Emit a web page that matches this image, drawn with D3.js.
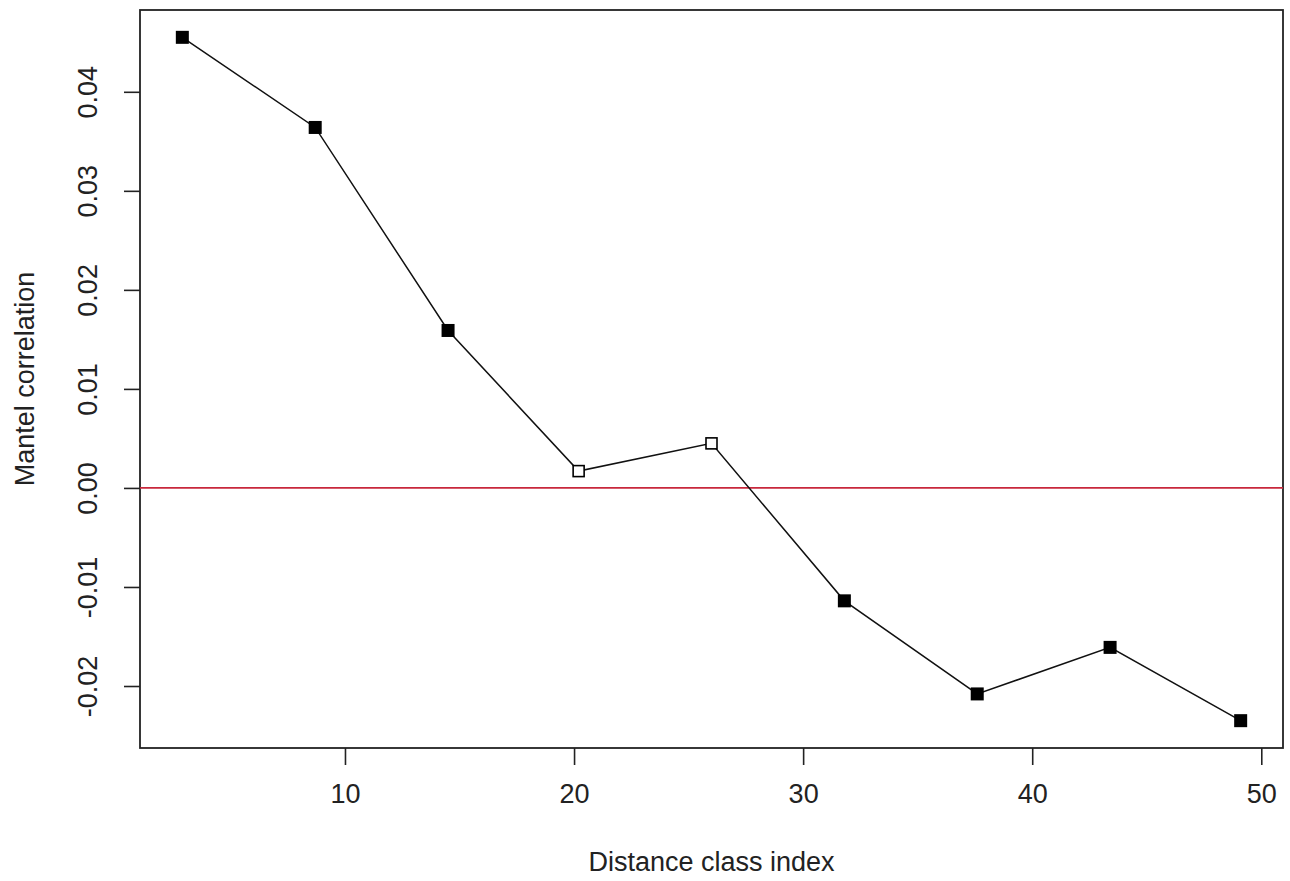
<!DOCTYPE html>
<html>
<head>
<meta charset="utf-8">
<script src="https://cdn.jsdelivr.net/npm/d3@7"></script>
<style>
  html, body { margin: 0; padding: 0; background: #fff; }
  svg { display: block; }
  text { font-family: "Liberation Sans", Arial, sans-serif; fill: #222; }
</style>
</head>
<body>
<svg id="chart" width="1290" height="881"></svg>
<script>
// Mantel correlogram: correlation per distance class
const classIndex = [2.9, 8.7, 14.5, 20.2, 26.0, 31.8, 37.6, 43.4, 49.1];
const mantelR    = [0.0455, 0.0364, 0.0159, 0.0017, 0.0045, -0.0114, -0.0208, -0.0161, -0.0235];
const significant = [true, true, true, false, false, true, true, true, true];
const xTicks = [10, 20, 30, 40, 50];
const yTicks = [-0.02, -0.01, 0.00, 0.01, 0.02, 0.03, 0.04];
const xTitle = "Distance class index";
const yTitle = "Mantel correlation";

const W = 1290, H = 881;
const margin = { left: 140, right: 7, top: 10, bottom: 133 };
const svg = d3.select("#chart");

// R-style 4% padding around the data range
function padded(ext) {
  const d = (ext[1] - ext[0]) * 0.04;
  return [ext[0] - d, ext[1] + d];
}

const x = d3.scaleLinear()
  .domain(padded(d3.extent(classIndex)))
  .range([margin.left, W - margin.right]);
const y = d3.scaleLinear()
  .domain(padded(d3.extent(mantelR)))
  .range([H - margin.bottom, margin.top]);

const fontSize = 27;
// plain hyphen for negatives, two decimals
const yFmt = v => v.toFixed(2).replace("-0.00", "0.00");

// x axis
const xAxis = svg.append("g")
  .attr("transform", `translate(0,${H - margin.bottom})`)
  .call(d3.axisBottom(x).tickValues(xTicks).tickFormat(d => String(d)).tickSize(17).tickPadding(19));
// y axis, labels rotated as in base graphics
const yAxis = svg.append("g")
  .attr("transform", `translate(${margin.left},0)`)
  .call(d3.axisLeft(y).tickValues(yTicks).tickFormat(yFmt).tickSize(16));

[xAxis, yAxis].forEach(g => {
  g.select(".domain").remove();
  g.selectAll(".tick line").attr("stroke", "#222").attr("stroke-width", 1.6);
  g.selectAll(".tick text").style("font-size", fontSize + "px").attr("fill", "#222");
});
xAxis.selectAll(".tick text").attr("dy", "0.71em");
yAxis.selectAll(".tick text")
  .attr("x", null).attr("dy", null)
  .attr("text-anchor", "middle")
  .attr("dominant-baseline", "central")
  .attr("transform", "translate(-52,0) rotate(-90)");

// plot box
svg.append("rect")
  .attr("x", margin.left).attr("y", margin.top)
  .attr("width", W - margin.left - margin.right)
  .attr("height", H - margin.top - margin.bottom)
  .attr("fill", "none").attr("stroke", "#222").attr("stroke-width", 1.8);

// zero reference line
svg.append("line")
  .attr("x1", margin.left).attr("x2", W - margin.right)
  .attr("y1", y(0)).attr("y2", y(0))
  .attr("stroke", "#c8283c").attr("stroke-width", 1.8);

// connecting line
const pts = classIndex.map((c, i) => ({ c, r: mantelR[i], s: significant[i] }));
svg.append("path")
  .datum(pts)
  .attr("fill", "none").attr("stroke", "#111").attr("stroke-width", 1.5)
  .attr("d", d3.line().x(d => x(d.c)).y(d => y(d.r)));

// markers: filled = significant, open = not significant
svg.selectAll("rect.pt")
  .data(pts)
  .join("rect")
  .attr("class", "pt")
  .each(function (d) {
    const s = d.s ? 13 : 11;
    d3.select(this)
      .attr("x", x(d.c) - s / 2).attr("y", y(d.r) - s / 2)
      .attr("width", s).attr("height", s)
      .attr("fill", d.s ? "#000" : "#fff")
      .attr("stroke", "#000")
      .attr("stroke-width", d.s ? 0 : 1.6);
  });

// axis titles
svg.append("text")
  .attr("x", (margin.left + W - margin.right) / 2)
  .attr("y", 862)
  .attr("text-anchor", "middle")
  .attr("dominant-baseline", "central")
  .style("font-size", fontSize + "px")
  .text(xTitle);
svg.append("text")
  .attr("transform", `translate(25,${(margin.top + H - margin.bottom) / 2}) rotate(-90)`)
  .attr("text-anchor", "middle")
  .attr("dominant-baseline", "central")
  .style("font-size", fontSize + "px")
  .text(yTitle);
</script>
</body>
</html>
